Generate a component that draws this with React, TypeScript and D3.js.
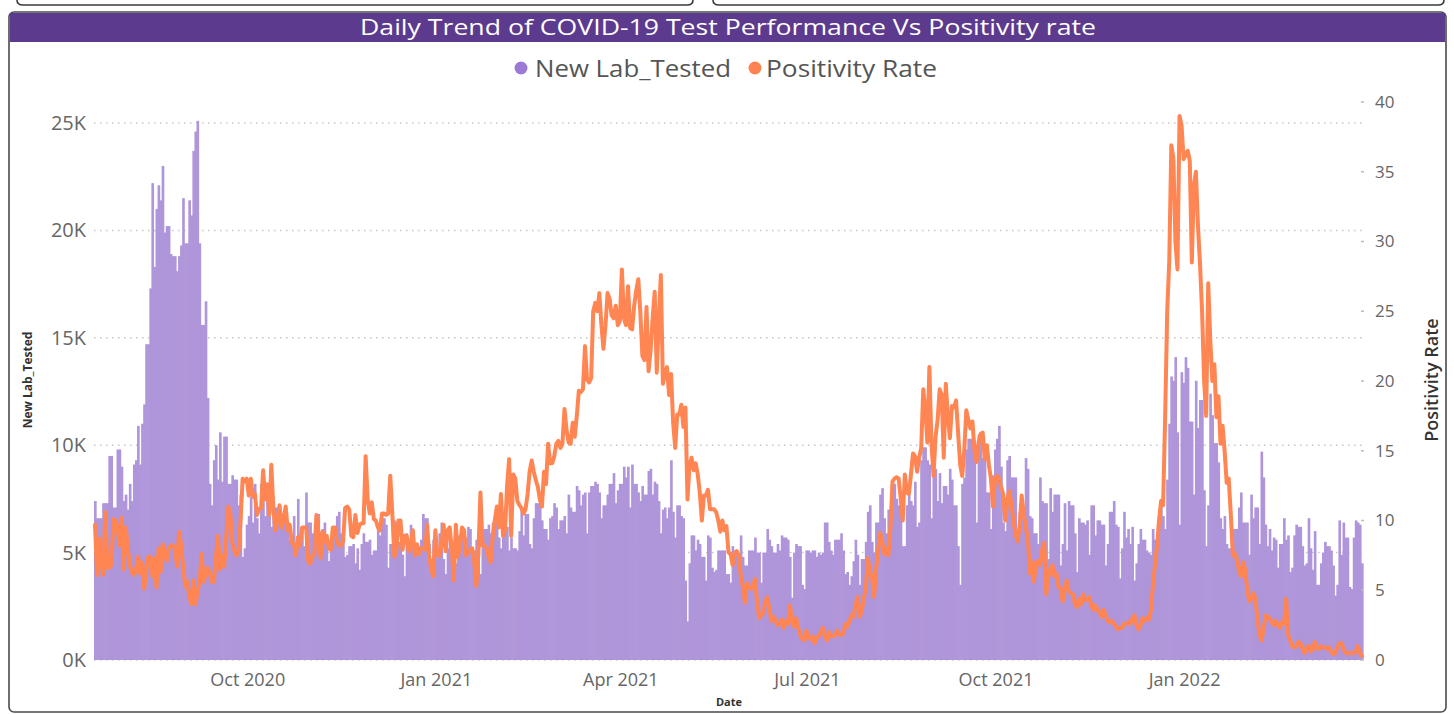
import { useEffect, useRef } from 'react';
import * as d3 from 'd3';

// New lab tests per day, in thousands (first value = 18 Jul 2020)
const testedJulSep2020 = [
  7.4, 6.6, 6.6, 6.6, 7.3, 7.3, 7.3, 9.5, 9.5, 7.1,
  7.1, 9.8, 9.8, 9.0, 7.4, 7.7, 7.0, 8.2, 7.4, 9.1,
  9.3, 10.9, 9.1, 11.0, 11.9, 14.7, 14.7, 17.3, 22.2, 18.3,
  21.0, 22.1, 21.4, 23.0, 19.9, 20.2, 20.2, 18.9, 18.8, 18.8,
  18.1, 18.8, 19.3, 21.5, 19.4, 19.4, 21.4, 20.7, 23.7, 24.6,
  25.1, 19.4, 15.6, 15.6, 16.7, 12.2, 8.2, 7.2, 9.3, 10.0,
  8.4, 10.6, 8.3, 10.4, 10.4, 8.2, 8.2, 8.6, 8.4, 8.4,
  7.2, 7.7, 4.8, 5.2, 6.3,
];
const testedOctDec2020 = [
  6.7, 7.6, 6.4, 8.2, 6.6, 5.9, 8.2, 8.3, 6.7, 7.5,
  6.7, 6.2, 7.1, 7.1, 7.1, 6.7, 6.7, 6.6, 6.4, 6.3,
  5.6, 5.6, 6.7, 5.2, 7.5, 5.4, 6.1, 5.3, 7.8, 6.4,
  6.4, 5.9, 5.4, 6.8, 6.8, 4.9, 6.1, 6.4, 5.4, 4.6,
  5.6, 6.2, 6.2, 6.7, 6.9, 5.9, 5.9, 4.8, 4.9, 5.3,
  5.3, 5.4, 4.5, 5.2, 4.2, 5.4, 5.9, 5.5, 5.5, 5.6,
  4.9, 5.1, 5.1, 6.2, 5.8, 6.6, 6.6, 6.3, 4.3, 5.4,
  5.4, 6.5, 6.4, 5.5, 5.5, 4.9, 3.9, 5.9, 5.4, 6.3,
  6.1, 4.9, 5.3, 5.3, 5.6, 6.8, 6.6, 6.6, 5.4, 4.7,
  5.6, 5.1,
];
const testedJanMar2021 = [
  5.1, 5.9, 6.4, 4.7, 4.0, 5.2, 6.2, 5.0, 5.0, 4.5,
  5.8, 5.0, 6.1, 5.7, 5.7, 6.2, 6.1, 4.8, 5.1, 5.6,
  5.6, 4.0, 5.3, 6.1, 6.1, 6.3, 5.9, 6.4, 6.4, 7.1,
  5.7, 5.2, 6.1, 6.1, 6.2, 5.1, 5.7, 5.2, 5.2, 5.1,
  6.0, 7.1, 5.8, 6.8, 6.8, 5.4, 5.2, 6.6, 7.3, 7.3,
  7.3, 6.5, 6.1, 6.1, 5.6, 6.6, 6.7, 7.3, 7.1, 6.1,
  6.5, 6.5, 6.7, 5.9, 7.7, 7.1, 6.9, 6.9, 8.1, 7.9,
  7.2, 7.7, 7.8, 5.9, 7.8, 8.1, 8.1, 8.3, 8.2, 7.8,
  6.6, 7.2, 7.2, 7.7, 8.2, 8.2, 8.7, 7.3, 7.9, 8.2,
];
const testedAprJun2021 = [
  8.2, 9.0, 8.5, 9.0, 7.1, 9.1, 8.2, 8.2, 7.8, 7.4,
  8.1, 7.7, 7.7, 8.8, 8.9, 7.7, 8.3, 8.2, 7.4, 5.9,
  7.0, 7.1, 6.6, 7.1, 9.3, 6.9, 5.7, 7.2, 7.2, 6.7,
  6.6, 3.7, 1.8, 4.5, 5.8, 5.8, 5.1, 5.6, 5.4, 4.8,
  4.8, 3.7, 5.8, 5.7, 4.3, 4.1, 4.2, 5.1, 5.1, 5.1,
  5.1, 4.0, 4.0, 3.6, 5.3, 5.1, 5.1, 4.3, 5.8, 4.8,
  4.4, 4.4, 5.1, 5.1, 5.1, 5.7, 5.0, 5.0, 3.6, 5.0,
  5.0, 6.1, 5.6, 5.3, 5.0, 5.0, 5.4, 5.1, 5.8, 5.7,
  5.7, 5.6, 4.8, 2.9, 5.0, 5.4, 5.3, 5.3, 3.5, 3.3,
  5.1,
];
const testedJulSep2021 = [
  5.1, 5.0, 5.1, 5.1, 4.8, 5.0, 4.9, 5.0, 6.4, 6.4,
  5.5, 5.1, 4.9, 5.6, 5.6, 5.6, 5.9, 5.1, 4.0, 4.1,
  3.5, 3.9, 4.6, 5.6, 4.9, 3.5, 4.7, 4.7, 5.5, 6.9,
  7.2, 5.5, 5.0, 6.4, 6.4, 7.7, 8.0, 6.6, 5.9, 7.0,
  7.0, 8.1, 8.2, 7.5, 7.2, 7.2, 5.3, 5.3, 7.2, 7.7,
  7.4, 7.2, 8.3, 6.2, 6.4, 9.3, 9.9, 9.9, 9.3, 9.1,
  6.6, 8.9, 8.9, 7.4, 8.7, 7.3, 8.1, 8.1, 7.7, 8.9,
  8.4, 7.2, 7.2, 5.3, 3.5, 8.2, 8.5, 9.8, 10.3, 10.3,
  10.2, 10.2, 6.4, 10.5, 10.5, 9.4, 9.3, 7.8, 7.8, 6.1,
  8.6, 9.8,
];
const testedOctDec2021 = [
  10.3, 10.9, 9.0, 6.4, 6.0, 9.3, 9.5, 8.5, 8.5, 8.5,
  5.5, 6.9, 7.1, 7.1, 9.4, 8.9, 6.7, 6.6, 5.9, 5.9,
  5.4, 8.5, 7.4, 7.3, 7.3, 4.7, 8.0, 6.9, 7.7, 7.7,
  7.7, 4.4, 5.4, 7.3, 5.1, 7.4, 7.2, 7.2, 5.9, 4.1,
  6.6, 6.4, 6.4, 6.3, 6.5, 4.9, 7.2, 7.2, 5.8, 6.5,
  6.5, 6.3, 6.3, 4.4, 5.4, 6.9, 6.9, 7.4, 6.3, 6.2,
  3.8, 5.2, 6.9, 5.7, 6.1, 5.4, 6.2, 3.7, 4.5, 5.4,
  6.1, 5.6, 5.6, 5.1, 5.0, 4.9, 6.1, 5.6, 5.6, 6.6,
  7.5, 6.7, 6.1, 8.4, 11.0, 13.2, 13.0, 14.1, 10.6, 6.3,
  13.4, 12.9,
];
const testedJanMar2022 = [
  14.1, 13.6, 11.1, 11.1, 7.7, 13.0, 10.8, 12.1, 12.1, 7.9,
  5.3, 7.2, 12.4, 11.4, 10.1, 10.1, 9.2, 6.6, 6.1, 6.7,
  5.4, 5.2, 5.2, 6.1, 6.1, 6.1, 7.1, 7.8, 6.4, 6.4,
  6.4, 4.9, 7.7, 6.6, 7.1, 7.1, 5.4, 9.7, 8.5, 6.3,
  5.3, 6.1, 5.1, 5.7, 5.6, 4.3, 5.4, 5.4, 6.6, 5.6,
  5.8, 4.1, 4.3, 5.8, 6.3, 6.2, 6.2, 5.3, 4.4, 4.5,
  6.6, 5.2, 4.2, 6.0, 3.5, 3.5, 4.5, 5.0, 5.5, 5.3,
  5.3, 5.1, 4.4, 3.0, 3.5, 6.5, 4.9, 6.4, 5.7, 5.7,
  3.4, 3.3, 5.7, 6.5, 6.4, 6.3, 4.5,
];

// Positivity rate per day, in percent
const positivityJulSep2020 = [
  9.7, 6.1, 8.7, 7.0, 6.1, 10.6, 6.6, 6.6, 6.8, 10.1,
  10.0, 9.5, 8.2, 10.2, 6.5, 9.5, 8.0, 6.8, 6.3, 6.1,
  6.5, 7.4, 6.2, 7.0, 5.1, 6.5, 7.4, 7.4, 6.0, 7.3,
  5.2, 8.0, 6.3, 8.3, 7.8, 7.1, 8.0, 8.2, 8.2, 8.0,
  6.7, 9.2, 8.2, 6.7, 5.3, 5.6, 4.5, 4.0, 5.7, 4.0,
  4.9, 5.6, 7.6, 5.6, 6.2, 6.6, 6.2, 5.6, 5.6, 7.5,
  8.9, 6.5, 7.5, 6.7, 8.9, 11.0, 10.5, 8.4, 7.8, 7.5,
  7.8, 10.0, 13.0, 12.8, 13.0,
];
const positivityOctDec2020 = [
  11.8, 13.0, 11.7, 11.9, 10.4, 10.8, 10.9, 13.6, 11.5, 12.6,
  10.4, 14.0, 10.8, 9.3, 10.0, 11.1, 9.5, 10.1, 11.0, 9.3,
  9.7, 8.4, 8.3, 7.5, 8.8, 8.2, 9.5, 9.5, 9.5, 7.1,
  6.9, 7.5, 7.6, 10.4, 9.1, 7.3, 9.2, 8.5, 8.9, 8.0,
  7.9, 9.5, 9.5, 8.5, 8.2, 8.2, 8.5, 10.9, 11.0, 10.8,
  8.9, 8.8, 10.4, 9.1, 9.7, 9.8, 9.8, 14.6, 11.5, 10.5,
  11.3, 10.1, 10.0, 9.5, 9.3, 10.5, 10.5, 10.4, 10.5, 13.2,
  10.6, 7.4, 7.9, 10.0, 10.0, 7.9, 8.9, 8.9, 7.8, 8.2,
  9.3, 7.5, 8.3, 7.6, 8.0, 8.0, 7.9, 9.7, 7.4, 6.5,
  6.0, 9.3,
];
const positivityJanMar2021 = [
  7.5, 7.5, 8.2, 9.7, 7.8, 9.3, 9.5, 8.0, 5.7, 9.7,
  7.4, 8.2, 9.5, 9.3, 7.5, 7.7, 7.9, 8.0, 7.0, 5.3,
  7.6, 12.0, 8.2, 8.2, 8.0, 7.4, 7.0, 8.9, 10.0, 11.0,
  9.5, 11.9, 8.9, 9.3, 12.5, 14.4, 8.9, 13.3, 13.0, 11.4,
  11.1, 10.9, 10.5, 10.8, 11.9, 13.5, 14.3, 13.5, 12.9, 12.4,
  11.5, 11.0, 13.5, 12.6, 15.5, 14.1, 14.1, 14.6, 15.5, 15.7,
  15.2, 15.5, 18.0, 16.5, 15.6, 15.5, 17.0, 16.0, 17.5, 19.3,
  19.2, 19.4, 22.5, 20.1, 19.9, 20.2, 25.0, 25.6, 25.0, 26.3,
  24.0, 22.3, 24.0, 26.3, 25.9, 24.7, 24.5, 25.4, 24.0, 24.3,
];
const positivityAprJun2021 = [
  28.0, 24.5, 24.0, 26.8, 23.8, 23.7, 25.4, 26.5, 27.3, 24.9,
  21.8, 21.5, 25.3, 20.7, 22.2, 24.5, 26.4, 20.6, 24.4, 27.6,
  19.8, 20.5, 21.0, 19.0, 20.5, 17.0, 15.2, 17.6, 17.6, 18.3,
  16.7, 18.1, 11.5, 14.0, 14.5, 13.6, 14.1, 13.3, 12.0, 10.0,
  11.8, 11.8, 12.2, 10.8, 10.8, 10.8, 10.6, 10.0, 9.2, 10.0,
  9.3, 9.6, 7.7, 7.6, 6.8, 7.6, 7.8, 7.5, 6.0, 5.3,
  4.1, 5.5, 5.2, 5.1, 5.4, 5.8, 4.0, 3.0, 3.2, 3.4,
  4.2, 4.5, 3.6, 2.8, 3.1, 2.8, 2.5, 2.6, 2.9, 2.3,
  2.8, 2.6, 3.9, 2.7, 2.4, 3.0, 2.3, 1.8, 1.5, 1.4,
  2.1,
];
const positivityJulSep2021 = [
  1.7, 1.5, 1.7, 1.2, 1.6, 1.7, 2.0, 2.3, 1.7, 1.4,
  2.0, 1.7, 1.7, 1.8, 2.1, 1.8, 1.8, 1.9, 2.6, 2.4,
  2.8, 3.2, 3.1, 4.0, 4.5, 3.1, 3.5, 4.4, 5.2, 7.3,
  6.2, 6.0, 4.5, 6.5, 7.9, 9.1, 8.5, 7.6, 8.0, 7.5,
  9.5, 12.8, 13.0, 13.1, 13.0, 11.6, 10.0, 13.3, 12.0, 11.9,
  13.3, 14.8, 14.6, 13.5, 14.5, 15.2, 19.4, 18.0, 15.6, 21.0,
  15.5, 13.2, 16.0, 17.2, 19.4, 19.0, 14.5, 19.8, 17.5, 15.9,
  18.2, 18.1, 18.6, 16.3, 14.0, 13.2, 15.0, 17.9, 17.2, 16.6,
  17.1, 15.0, 14.2, 15.6, 16.2, 16.3, 14.4, 15.4, 14.0, 13.0,
  11.0, 13.0,
];
const positivityOctDec2021 = [
  13.2, 13.0, 12.4, 11.9, 10.0, 11.5, 12.1, 11.1, 10.0, 9.0,
  8.5, 9.6, 11.8, 10.5, 9.5, 8.8, 6.2, 7.0, 5.6, 7.0,
  7.1, 6.8, 7.9, 8.4, 4.7, 6.0, 6.5, 6.8, 6.0, 6.2,
  5.2, 5.2, 4.2, 5.1, 5.7, 4.9, 4.8, 4.7, 4.0, 3.8,
  4.4, 4.0, 4.7, 4.3, 4.3, 4.5, 3.9, 3.6, 3.9, 3.6,
  3.4, 3.1, 3.6, 3.2, 2.8, 2.7, 2.8, 2.6, 2.4, 2.2,
  2.3, 2.3, 2.6, 2.6, 2.7, 2.6, 3.0, 3.2, 2.5, 2.2,
  2.5, 3.0, 2.8, 3.0, 2.9, 3.5, 5.3, 6.8, 8.1, 10.0,
  11.4, 11.1, 17.5, 25.0, 28.6, 36.9, 36.0, 30.0, 28.0, 39.0,
  38.3, 35.9,
];
const positivityJanMar2022 = [
  36.2, 36.5, 35.8, 28.5, 34.0, 35.0, 31.1, 28.4, 25.0, 20.0,
  17.5, 27.0, 23.0, 20.0, 21.2, 17.4, 18.9, 15.5, 16.8, 15.0,
  12.7, 13.0, 10.5, 7.5, 7.6, 7.2, 6.4, 6.0, 7.0, 6.5,
  5.1, 4.2, 4.4, 4.8, 4.4, 3.0, 1.8, 1.4, 2.2, 3.2,
  3.1, 3.0, 2.7, 2.5, 2.8, 2.5, 2.3, 2.7, 2.6, 4.4,
  1.8, 1.4, 1.0, 0.9, 1.0, 1.3, 1.2, 0.8, 0.5, 0.9,
  1.0, 0.6, 0.8, 1.3, 0.8, 0.8, 1.0, 0.9, 0.9, 0.8,
  0.9, 0.6, 0.4, 0.5, 0.9, 1.2, 1.2, 0.8, 0.5, 0.5,
  0.5, 0.5, 0.5, 0.6, 1.0, 0.5, 0.3,
];

const leftTicks = [0, 5, 10, 15, 20, 25];
const rightTicks = [0, 5, 10, 15, 20, 25, 30, 35, 40];
const monthTicks = [
  new Date(2020, 9, 1), new Date(2021, 0, 1), new Date(2021, 3, 1),
  new Date(2021, 6, 1), new Date(2021, 9, 1), new Date(2022, 0, 1),
];
const startDate = new Date(2020, 6, 18);

const FONT = "'Segoe UI', 'Open Sans', sans-serif";

export default function App() {
  const svgRef = useRef<SVGSVGElement | null>(null);

  useEffect(() => {
    if (!svgRef.current) return;
    const svg = d3.select(svgRef.current);
    svg.selectAll('*').remove();

    const tested = [
      ...testedJulSep2020, ...testedOctDec2020, ...testedJanMar2021,
      ...testedAprJun2021, ...testedJulSep2021, ...testedOctDec2021, ...testedJanMar2022,
    ];
    const positivity = [
      ...positivityJulSep2020, ...positivityOctDec2020, ...positivityJanMar2021,
      ...positivityAprJun2021, ...positivityJulSep2021, ...positivityOctDec2021, ...positivityJanMar2022,
    ];
    const data = tested.map((t, i) => ({
      date: d3.timeDay.offset(startDate, i),
      tested: t,
      rate: positivity[i],
    }));

    const W = 1454, H = 714;
    const plot = { left: 94, right: 1363, bottom: 660 };

    const x = d3.scaleTime()
      .domain([startDate, d3.timeDay.offset(startDate, data.length)])
      .range([plot.left, plot.right]);
    const yLeft = d3.scaleLinear().domain([0, 25]).range([plot.bottom, 123]);
    const yRight = d3.scaleLinear().domain([0, 40]).range([plot.bottom, 102]);

    svg.attr('width', W).attr('height', H);
    svg.append('rect').attr('width', W).attr('height', H).attr('fill', '#fff');

    // Bottoms of the two panels above
    const frame = svg.append('g').attr('fill', 'none').attr('stroke', '#3a3a3a').attr('stroke-width', 1.6);
    [[17, 693], [713, 1444]].forEach(([a, b]) => {
      frame.append('path').attr('d', `M${a},-2 V0 Q${a},5 ${a + 6},5 H${b - 6} Q${b},5 ${b},0 V-2`);
    });

    // Main panel
    svg.append('rect')
      .attr('x', 9).attr('y', 12).attr('width', 1437).attr('height', 700)
      .attr('rx', 5).attr('fill', '#fff').attr('stroke', '#4a4a4a').attr('stroke-width', 1.6);

    svg.append('rect')
      .attr('x', 10).attr('y', 13).attr('width', 1435).attr('height', 29)
      .attr('fill', '#5C3A8E');
    svg.append('text')
      .attr('x', 728).attr('y', 35)
      .attr('text-anchor', 'middle')
      .attr('fill', '#fff')
      .attr('font-family', FONT)
      .attr('font-size', 21)
      .attr('textLength', 736)
      .attr('lengthAdjust', 'spacingAndGlyphs')
      .text('Daily Trend of COVID-19 Test Performance Vs Positivity rate');

    // Legend
    const legend = svg.append('g').attr('font-family', FONT).attr('font-size', 23).attr('fill', '#555');
    legend.append('circle').attr('cx', 521).attr('cy', 68).attr('r', 6.5).attr('fill', '#9A7AD2');
    legend.append('text').attr('x', 535).attr('y', 77).attr('textLength', 196)
      .attr('lengthAdjust', 'spacingAndGlyphs').text('New Lab_Tested');
    legend.append('circle').attr('cx', 755).attr('cy', 68).attr('r', 6.5).attr('fill', '#FD8452');
    legend.append('text').attr('x', 766).attr('y', 77).attr('textLength', 171)
      .attr('lengthAdjust', 'spacingAndGlyphs').text('Positivity Rate');

    // Gridlines
    svg.append('g')
      .selectAll('line')
      .data(leftTicks)
      .enter()
      .append('line')
      .attr('x1', plot.left).attr('x2', plot.right)
      .attr('y1', d => yLeft(d)).attr('y2', d => yLeft(d))
      .attr('stroke', '#c6c6c6')
      .attr('stroke-width', 1.5)
      .attr('stroke-dasharray', '1.5,4.5');

    // Bars (slight overlap so neighbouring bars read as one solid area)
    svg.append('g')
      .selectAll('rect')
      .data(data)
      .enter()
      .append('rect')
      .attr('x', d => x(d.date))
      .attr('width', d => x(d3.timeDay.offset(d.date, 1)) - x(d.date) + 0.6)
      .attr('y', d => yLeft(d.tested))
      .attr('height', d => plot.bottom - yLeft(d.tested))
      .attr('fill', '#AF95DA');

    // Positivity line
    const line = d3.line<{ date: Date; rate: number }>()
      .x(d => x(d.date) + (x(d3.timeDay.offset(d.date, 1)) - x(d.date)) / 2)
      .y(d => yRight(d.rate));
    svg.append('path')
      .datum(data)
      .attr('fill', 'none')
      .attr('stroke', '#FF8553')
      .attr('stroke-width', 4)
      .attr('stroke-linejoin', 'round')
      .attr('stroke-linecap', 'round')
      .attr('d', line);

    // Left axis labels
    svg.append('g')
      .selectAll('text')
      .data(leftTicks)
      .enter()
      .append('text')
      .attr('x', 86).attr('y', d => yLeft(d))
      .attr('dy', '0.35em')
      .attr('text-anchor', 'end')
      .attr('font-family', FONT).attr('font-size', 20).attr('fill', '#666')
      .text(d => `${d}K`);

    // Right axis ticks + labels
    const right = svg.append('g');
    right.selectAll('line')
      .data(rightTicks)
      .enter()
      .append('line')
      .attr('x1', 1361).attr('x2', 1364)
      .attr('y1', d => yRight(d)).attr('y2', d => yRight(d))
      .attr('stroke', '#bbb').attr('stroke-width', 1.5);
    right.selectAll('text')
      .data(rightTicks)
      .enter()
      .append('text')
      .attr('x', 1375).attr('y', d => yRight(d))
      .attr('dy', '0.35em')
      .attr('font-family', FONT).attr('font-size', 17).attr('fill', '#666')
      .text(d => d);

    // X axis labels
    svg.append('g')
      .selectAll('text')
      .data(monthTicks)
      .enter()
      .append('text')
      .attr('x', d => x(d)).attr('y', 686)
      .attr('text-anchor', 'middle')
      .attr('font-family', FONT).attr('font-size', 18).attr('fill', '#666')
      .text(d => d3.timeFormat('%b %Y')(d));

    // Axis titles
    svg.append('text')
      .attr('x', 729).attr('y', 706)
      .attr('text-anchor', 'middle')
      .attr('font-family', FONT).attr('font-size', 11).attr('font-weight', 'bold').attr('fill', '#333')
      .text('Date');
    svg.append('text')
      .attr('transform', 'translate(32,380) rotate(-90)')
      .attr('text-anchor', 'middle')
      .attr('font-family', FONT).attr('font-size', 12).attr('font-weight', 'bold').attr('fill', '#333')
      .text('New Lab_Tested');
    svg.append('text')
      .attr('transform', 'translate(1438,380) rotate(-90)')
      .attr('text-anchor', 'middle')
      .attr('font-family', FONT).attr('font-size', 18).attr('font-weight', 600).attr('fill', '#333')
      .text('Positivity Rate');
  }, []);

  return (
    <div style={{ position: 'absolute', left: 0, top: 0, width: 1454, height: 714 }}>
      <svg ref={svgRef} style={{ display: 'block' }} />
    </div>
  );
}
